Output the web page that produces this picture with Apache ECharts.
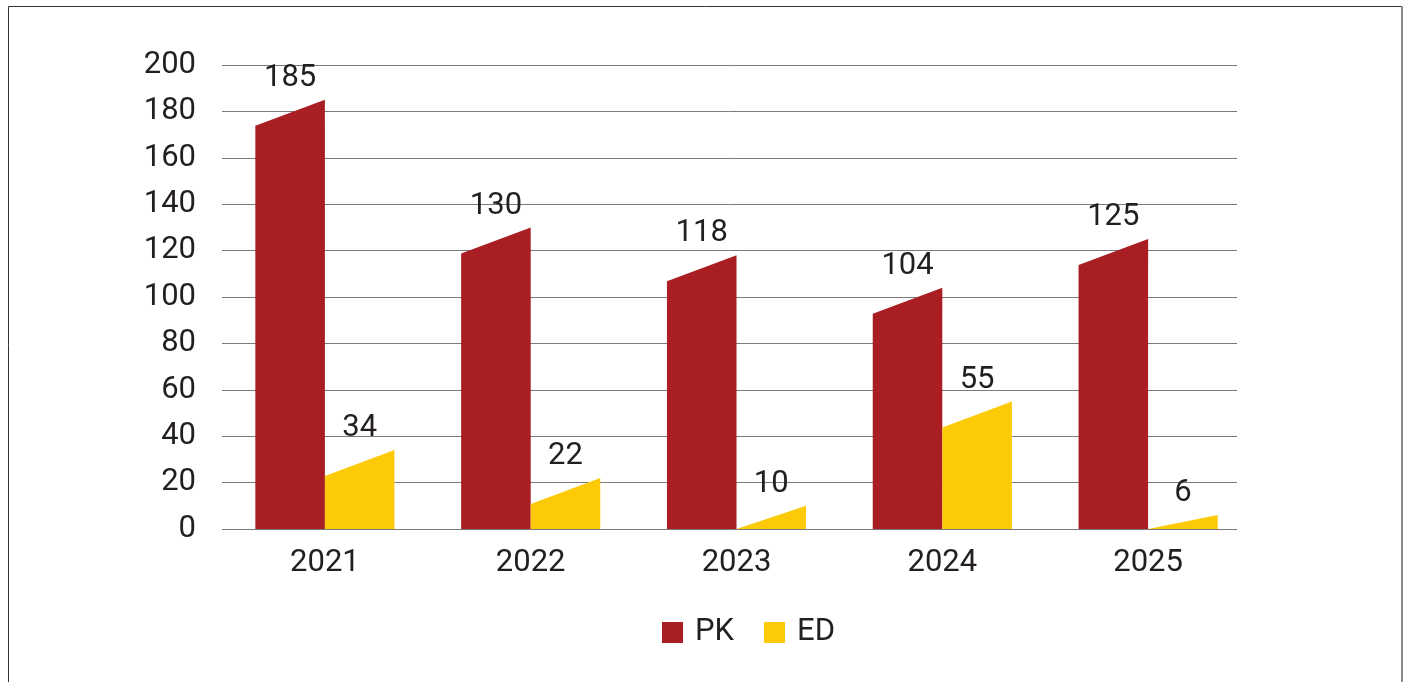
<!DOCTYPE html>
<html>
<head>
<meta charset="utf-8">
<script src="https://cdn.jsdelivr.net/npm/echarts@6/dist/echarts.min.js"></script>
<style>
  html, body { margin: 0; padding: 0; background: #fff; }
  #main { width: 1408px; height: 682px; }
</style>
</head>
<body>
<div id="main"></div>
<script>
var years = ['2021', '2022', '2023', '2024', '2025'];
var pkValues = [185, 130, 118, 104, 125];
var edValues = [34, 22, 10, 55, 6];
var seriesNames = ['PK', 'ED'];
var seriesColors = ['#a91e23', '#fdca07'];

var FONT = 'Roboto, sans-serif';
var FS = 31;

var myChart = echarts.init(document.getElementById('main'));

// slanted-top bar, left edge a bit lower than right edge
var SLANT = 26;
var BAR_FRAC = 0.338;

function renderItem(params, api) {
    var idx = api.value(0);
    var val = api.value(1);
    var top = api.coord([idx, val]);
    var base = api.coord([idx, 0]);
    var catW = api.size([1, 0])[0];
    var bw = catW * BAR_FRAC;
    var x0 = params.seriesIndex === 0 ? top[0] - bw : top[0];
    var x1 = x0 + bw;
    var leftTop = Math.min(base[1], top[1] + SLANT);
    return {
        type: 'group',
        children: [{
            type: 'polygon',
            shape: { points: [[x0, base[1]], [x0, leftTop], [x1, top[1]], [x1, base[1]]] },
            style: { fill: seriesColors[params.seriesIndex] }
        }, {
            type: 'text',
            x: x0 + bw / 2,
            y: top[1] - 6,
            style: {
                text: String(val),
                fill: '#231f20',
                font: FS + 'px ' + FONT,
                align: 'center',
                verticalAlign: 'bottom'
            }
        }]
    };
}

function toData(arr) {
    return arr.map(function (v, i) { return [i, v]; });
}

var option = {
    backgroundColor: '#fff',
    animation: false,
    textStyle: { fontFamily: FONT },
    graphic: [{
        type: 'rect',
        shape: { x: 8.5, y: 6.5, width: 1394, height: 700 },
        style: { fill: 'none', stroke: '#333', lineWidth: 1 }
    }, {
        type: 'line',
        shape: { x1: 1402, y1: 6, x2: 1402, y2: 682 },
        style: { stroke: '#8a8a8a', lineWidth: 2 }
    }],
    legend: {
        data: seriesNames,
        top: 612,
        left: 657,
        icon: 'rect',
        itemWidth: 21,
        itemHeight: 21,
        itemGap: 30,
        textStyle: { fontSize: FS, color: '#231f20', fontFamily: FONT, padding: [0, 0, 0, 7] }
    },
    grid: [
        { left: 222, top: 65, width: 1029, height: 464 },
        { left: 222, top: 65, width: 1015, height: 464 }
    ],
    xAxis: [{
        type: 'category',
        gridIndex: 0,
        data: years,
        axisLine: { show: false },
        axisTick: { show: false },
        axisLabel: { fontSize: FS, color: '#231f20', margin: 19 }
    }, {
        type: 'value',
        gridIndex: 1,
        min: 0,
        max: 1,
        show: false
    }],
    yAxis: [{
        type: 'value',
        gridIndex: 0,
        min: 0,
        max: 200,
        interval: 20,
        axisLine: { show: false },
        axisTick: { show: false },
        splitLine: { show: false },
        axisLabel: { fontSize: FS, color: '#231f20', margin: 26 }
    }, {
        type: 'value',
        gridIndex: 1,
        min: 0,
        max: 200,
        interval: 20,
        axisLine: { show: false },
        axisTick: { show: false },
        axisLabel: { show: false },
        splitLine: { show: true, lineStyle: { color: '#7a7a7a', width: 1 } }
    }],
    series: [{
        name: seriesNames[0],
        type: 'custom',
        xAxisIndex: 0,
        yAxisIndex: 0,
        renderItem: renderItem,
        itemStyle: { color: seriesColors[0] },
        encode: { x: 0, y: 1 },
        data: toData(pkValues),
        z: 3
    }, {
        name: seriesNames[1],
        type: 'custom',
        xAxisIndex: 0,
        yAxisIndex: 0,
        renderItem: renderItem,
        itemStyle: { color: seriesColors[1] },
        encode: { x: 0, y: 1 },
        data: toData(edValues),
        z: 3
    }]
};

myChart.setOption(option);
</script>
</body>
</html>
